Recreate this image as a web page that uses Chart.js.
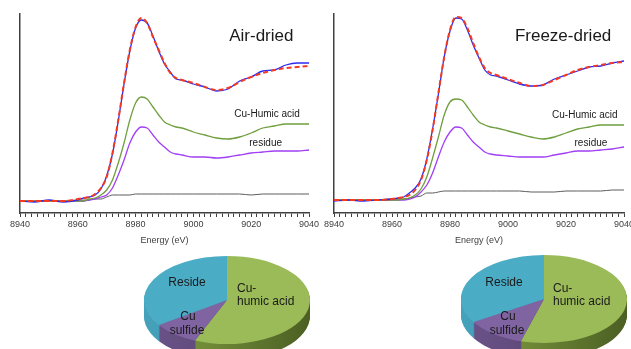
<!DOCTYPE html>
<html>
<head>
<meta charset="utf-8">
<script src="https://cdn.jsdelivr.net/npm/chart.js@4.4.1/dist/chart.umd.min.js"></script>
<style>
    body { margin: 0; width: 631px; height: 349px; overflow: hidden; background: #fff; position: relative; }
    canvas { position: absolute; }
    #airChart { left: 0; top: 0; }
    #freezeChart { left: 315px; top: 0; }
    #airPie { left: 144px; top: 217px; }
    #freezePie { left: 461px; top: 216px; }
</style>
</head>
<body>
<canvas id="airChart" width="330" height="250"></canvas>
<canvas id="freezeChart" width="335" height="250"></canvas>
<canvas id="airPie" width="166" height="166"></canvas>
<canvas id="freezePie" width="166" height="166"></canvas>
<script>
// Energía común (eV)
const energy = [8940, 8945, 8950, 8955, 8960, 8962, 8964, 8966, 8968, 8970, 8972, 8974, 8976, 8978, 8980, 8982, 8984,
                8986, 8988, 8990, 8992, 8994, 8996, 9000, 9004, 9008, 9012, 9016, 9020, 9024, 9028, 9032, 9036, 9040];

// Air-dried
const airSample  = [0, -0.01, 0.01, -0.01, 0.01, 0.03, 0.04, 0.06, 0.12, 0.25, 0.47, 0.80, 1.17, 1.50, 1.73, 1.81, 1.78,
                    1.65, 1.50, 1.37, 1.29, 1.22, 1.21, 1.17, 1.14, 1.10, 1.12, 1.20, 1.24, 1.30, 1.31, 1.36, 1.38, 1.38];
const airFit     = [0, 0, 0, 0, 0.02, 0.03, 0.04, 0.07, 0.13, 0.24, 0.48, 0.81, 1.18, 1.51, 1.74, 1.83, 1.78,
                    1.64, 1.51, 1.38, 1.28, 1.23, 1.21, 1.18, 1.14, 1.11, 1.13, 1.19, 1.24, 1.28, 1.31, 1.33, 1.34, 1.35];
const airHumic   = [0, 0, 0, 0, 0, 0, 0.02, 0.03, 0.06, 0.11, 0.21, 0.38, 0.58, 0.81, 0.98, 1.04, 1.02,
                    0.94, 0.86, 0.79, 0.76, 0.74, 0.73, 0.69, 0.66, 0.63, 0.62, 0.64, 0.68, 0.73, 0.75, 0.77, 0.77, 0.77];
const airResidue = [0, 0, 0, 0, 0, 0, 0.01, 0.02, 0.04, 0.06, 0.13, 0.26, 0.41, 0.58, 0.69, 0.74, 0.73,
                    0.66, 0.59, 0.54, 0.49, 0.47, 0.46, 0.44, 0.44, 0.43, 0.44, 0.46, 0.48, 0.49, 0.50, 0.50, 0.50, 0.51];
const airSulfide = [0, 0, 0, 0, 0.01, 0.01, 0.01, 0.02, 0.02, 0.04, 0.06, 0.06, 0.06, 0.06, 0.07, 0.07, 0.07,
                    0.07, 0.07, 0.07, 0.07, 0.07, 0.07, 0.07, 0.07, 0.07, 0.07, 0.07, 0.06, 0.07, 0.07, 0.07, 0.07, 0.07];

// Freeze-dried
const freezeSample  = [0, 0.01, 0, 0.01, 0.02, 0.03, 0.04, 0.08, 0.13, 0.22, 0.42, 0.72, 1.07, 1.44, 1.70, 1.83, 1.82,
                       1.71, 1.56, 1.43, 1.31, 1.26, 1.25, 1.21, 1.17, 1.15, 1.16, 1.22, 1.26, 1.30, 1.34, 1.35, 1.38, 1.40];
const freezeFit     = [0.01, 0.01, 0.01, 0.01, 0.02, 0.03, 0.04, 0.06, 0.11, 0.21, 0.41, 0.71, 1.08, 1.44, 1.71, 1.84, 1.83,
                       1.73, 1.58, 1.44, 1.33, 1.28, 1.26, 1.22, 1.18, 1.15, 1.16, 1.21, 1.26, 1.31, 1.34, 1.36, 1.38, 1.39];
const freezeHumic   = [0.01, 0.01, 0.01, 0.01, 0.01, 0.01, 0.02, 0.03, 0.06, 0.12, 0.24, 0.43, 0.64, 0.86, 0.99, 1.02, 1.01,
                       0.94, 0.86, 0.79, 0.76, 0.74, 0.73, 0.70, 0.67, 0.64, 0.62, 0.64, 0.68, 0.72, 0.74, 0.76, 0.76, 0.76];
const freezeResidue = [0.01, 0.01, 0.01, 0.01, 0.01, 0.01, 0.01, 0.02, 0.04, 0.09, 0.16, 0.28, 0.44, 0.59, 0.69, 0.74, 0.73,
                       0.66, 0.59, 0.54, 0.49, 0.47, 0.46, 0.45, 0.44, 0.44, 0.44, 0.46, 0.48, 0.50, 0.50, 0.51, 0.52, 0.54];
const freezeSulfide = [0.01, 0.01, 0.01, 0.01, 0.02, 0.02, 0.02, 0.03, 0.04, 0.05, 0.08, 0.08, 0.09, 0.10, 0.10, 0.10, 0.10,
                       0.10, 0.10, 0.10, 0.10, 0.10, 0.10, 0.10, 0.10, 0.09, 0.09, 0.09, 0.10, 0.10, 0.10, 0.10, 0.11, 0.11];

// Fracciones (%) de los pasteles
const pieLabels = ['Cu-humic acid', 'Cu sulfide', 'Reside'];
const airFractions = [56.3, 9.1, 34.6];
const freezeFractions = [54.5, 11.7, 33.8];

const FONT = '"Liberation Sans", Arial, sans-serif';
Chart.defaults.font.family = FONT;

function toPoints(values) {
    return energy.map((e, i) => ({ x: e, y: values[i] }));
}

function lineSet(label, values, color, width) {
    return { label: label, data: toPoints(values), borderColor: color, borderWidth: width,
             pointRadius: 0, fill: false, cubicInterpolationMode: 'monotone' };
}

// Textos dentro del gráfico, en coordenadas de datos
function textMarks(items) {
    return {
        id: 'textMarks',
        afterDatasetsDraw(chart) {
            const { ctx, scales: { x, y } } = chart;
            ctx.save();
            ctx.fillStyle = '#1a1a1a';
            ctx.textAlign = 'center';
            ctx.textBaseline = 'middle';
            items.forEach(t => {
                ctx.font = t.size + 'px ' + FONT;
                ctx.fillText(t.text, x.getPixelForValue(t.x), y.getPixelForValue(t.y));
            });
            ctx.restore();
        }
    };
}

function buildSpectrum(canvasId, s, notes, axisWidth, padRight) {
    new Chart(document.getElementById(canvasId), {
        type: 'line',
        data: {
            datasets: [
                Object.assign(lineSet('fit', s.fit, '#f23a22', 2), { borderDash: [5, 3] }),
                lineSet('sample', s.sample, '#2d2df2', 1.3),
                lineSet('Cu-Humic acid', s.humic, '#6f9f3e', 1.3),
                lineSet('residue', s.residue, '#a03ff5', 1.3),
                lineSet('Cu sulfide', s.sulfide, '#5c5c5c', 1)
            ]
        },
        options: {
            animation: false,
            responsive: false,
            layout: { padding: { top: 14, right: padRight, left: 0, bottom: 0 } },
            plugins: { legend: { display: false }, tooltip: { enabled: false } },
            scales: {
                x: {
                    type: 'linear', min: 8940, max: 9040,
                    afterFit: scale => { scale.height = 37; },
                    ticks: {
                        stepSize: 2, autoSkip: false, maxRotation: 0, minRotation: 0, padding: 2,
                        color: '#404040', font: { size: 9 },
                        callback: v => (v % 20 === 0 ? String(v) : '')
                    },
                    grid: { drawOnChartArea: false, tickLength: 4, color: '#404040', lineWidth: 1 },
                    border: { color: '#404040', width: 1.5 },
                    title: { display: true, text: 'Energy (eV)', color: '#404040', font: { size: 9 },
                             padding: { top: 0, bottom: 4 } }
                },
                y: {
                    min: -0.12, max: 1.87,
                    afterFit: scale => { scale.width = axisWidth; },
                    ticks: { display: false },
                    grid: { display: false },
                    border: { color: '#404040', width: 1.5 }
                }
            }
        },
        plugins: [textMarks(notes)]
    });
}

// Pastel con efecto 3D: se aplasta y se dibuja el costado con capas
const pieColors = ['#9bbb59', '#8064a2', '#4bacc6'];
const pieSides = [['#86a446', '#4b5f22'], ['#6b5389', '#4f3d67'], ['#46a2bb', '#2f7e94']];

function pie3d(tilt, depth) {
    return {
        id: 'pie3d',
        beforeDatasetsDraw(chart) {
            const ctx = chart.ctx;
            const arcs = chart.getDatasetMeta(0).data;
            const cx = arcs[0].x, cy = arcs[0].y, r = arcs[0].outerRadius;
            ctx.save();
            ctx.translate(cx, cy);
            ctx.scale(1, tilt);
            ctx.translate(-cx, -cy);
            const fills = pieSides.map(pair => {
                const g = ctx.createLinearGradient(cx - r, 0, cx + r, 0);
                g.addColorStop(0, pair[0]);
                g.addColorStop(1, pair[1]);
                return g;
            });
            for (let d = depth; d > 0; d--) {
                const oy = cy + d / tilt;
                arcs.forEach((a, i) => {
                    ctx.beginPath();
                    ctx.moveTo(a.x, oy);
                    ctx.arc(a.x, oy, a.outerRadius, a.startAngle, a.endAngle);
                    ctx.closePath();
                    ctx.fillStyle = fills[i];
                    ctx.fill();
                });
            }
        },
        afterDatasetsDraw(chart) {
            chart.ctx.restore();
        }
    };
}

function pieText(items) {
    return {
        id: 'pieText',
        afterDraw(chart) {
            const ctx = chart.ctx;
            const a = chart.getDatasetMeta(0).data[0];
            ctx.save();
            ctx.fillStyle = '#1a1a1a';
            ctx.font = '12px ' + FONT;
            ctx.textBaseline = 'middle';
            items.forEach(t => {
                ctx.textAlign = t.align;
                ctx.fillText(t.text, a.x + t.dx, a.y + t.dy);
            });
            ctx.restore();
        }
    };
}

function buildPie(canvasId, fractions, labels) {
    new Chart(document.getElementById(canvasId), {
        type: 'pie',
        data: {
            labels: pieLabels,
            datasets: [{ data: fractions, backgroundColor: pieColors, borderWidth: 0 }]
        },
        options: {
            animation: false,
            responsive: false,
            layout: { padding: 0 },
            plugins: { legend: { display: false }, tooltip: { enabled: false } }
        },
        plugins: [pie3d(0.53, 16), pieText(labels)]
    });
}

buildSpectrum('airChart',
    { sample: airSample, fit: airFit, humic: airHumic, residue: airResidue, sulfide: airSulfide },
    [
        { text: 'Air-dried', x: 9023.5, y: 1.65, size: 17 },
        { text: 'Cu-Humic acid', x: 9025.5, y: 0.87, size: 10 },
        { text: 'residue', x: 9025, y: 0.58, size: 10 }
    ], 20, 21);

buildSpectrum('freezeChart',
    { sample: freezeSample, fit: freezeFit, humic: freezeHumic, residue: freezeResidue, sulfide: freezeSulfide },
    [
        { text: 'Freeze-dried', x: 9019, y: 1.65, size: 17 },
        { text: 'Cu-Humic acid', x: 9026.5, y: 0.86, size: 10 },
        { text: 'residue', x: 9028.6, y: 0.58, size: 10 }
    ], 19, 26);

buildPie('airPie', airFractions, [
    { text: 'Reside', dx: -40, dy: -17, align: 'center' },
    { text: 'Cu-', dx: 10, dy: -11, align: 'left' },
    { text: 'humic acid', dx: 10, dy: 2, align: 'left' },
    { text: 'Cu', dx: -39, dy: 17, align: 'center' },
    { text: 'sulfide', dx: -40, dy: 31, align: 'center' }
]);

buildPie('freezePie', freezeFractions, [
    { text: 'Reside', dx: -40, dy: -16, align: 'center' },
    { text: 'Cu-', dx: 9, dy: -10, align: 'left' },
    { text: 'humic acid', dx: 9, dy: 3, align: 'left' },
    { text: 'Cu', dx: -36, dy: 18, align: 'center' },
    { text: 'sulfide', dx: -37, dy: 32, align: 'center' }
]);
</script>
</body>
</html>
